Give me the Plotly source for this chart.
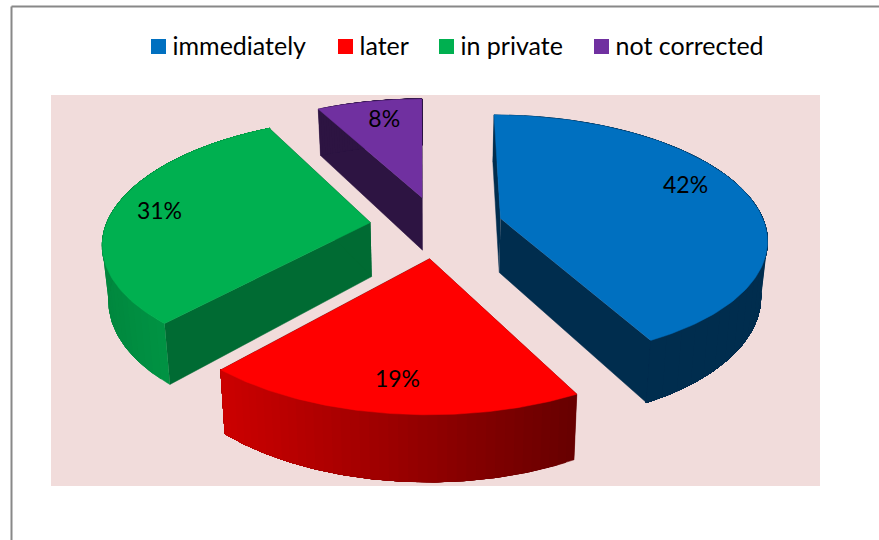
import numpy as np
import plotly.graph_objects as go

CATEGORIES = ["immediately", "later", "in private", "not corrected"]
SHARES = [42, 19, 31, 8]
TOP_COLORS = ["#0070C0", "#FF0000", "#00B050", "#7030A0"]

# layout / projection constants (pixels and unit-disc world coordinates)
W, H = 879, 540
CX, CY = 435, 221
SCALE, TILT, PERSP = 263, 120, 0.15
DEPTH = 54
CONVERGE = 0.98
START_ANGLE = -1
BOUNDARY_NUDGE = [1.5, 2.2, 3.2, 2, 0.5]  # view distortion of the slice boundaries, degrees
EXPLODE = {"immediately": (0.25, -0.02), "later": (-0.02, 0.3),
           "in private": (-0.245, 0.012), "not corrected": (-0.05, -0.2)}
LABEL_OFFSET = {"immediately": (185, -31), "later": (-32, 123),
                "in private": (-211, -9), "not corrected": (-38, -76)}
FACE_COLOR = {"immediately": "#002D4E", "later": "#660000",
              "in private": "#006B33", "not corrected": "#2D1442"}
SIDE_GRAD = {"immediately": ((0, 45, 78), (0, 45, 78)),
             "later": ((104, 0, 0), (205, 0, 0)),
             "in private": ((0, 165, 75), (0, 135, 62)),
             "not corrected": ((45, 20, 66), (45, 20, 66))}
DRAW_ORDER = ["not corrected", "in private", "immediately", "later"]
LEGEND_X = [158.5, 345.5, 446.5, 601.5]
LEGEND_Y = 46.5
LEGEND_TEXT_DX = 14
LEGEND_TEXT_DY = 2.5


def project(X, Y, z=0.0):
    X, Y = np.asarray(X, float), np.asarray(Y, float)
    d = 1 - PERSP * Y
    px = SCALE * X / d
    py = TILT * Y / d
    if z:
        return CX + px * CONVERGE, CY + py + z * DEPTH / d
    return CX + px, CY + py


def poly(fig, xs, ys, color):
    fig.add_trace(go.Scatter(x=list(xs), y=list(ys), mode="lines", fill="toself",
                             fillcolor=color, line=dict(color=color, width=0.5),
                             hoverinfo="skip", showlegend=False))


fig = go.Figure()

# slice angles derive from the shares
bounds = START_ANGLE + np.concatenate([[0], np.cumsum(SHARES)]) / sum(SHARES) * 360
bounds = bounds + np.array(BOUNDARY_NUDGE)
angles = {c: (bounds[i], bounds[i + 1]) for i, c in enumerate(CATEGORIES)}
color_of = dict(zip(CATEGORIES, TOP_COLORS))

for c in DRAW_ORDER:
    a0, a1 = angles[c]
    ex, ey = EXPLODE[c]
    th = np.radians(np.linspace(a0, a1, 121))
    X, Y = ex + np.sin(th), ey - np.cos(th)
    # straight cut faces
    for i in (0, -1):
        fx, fy = [ex, X[i]], [ey, Y[i]]
        tx, ty = project(fx, fy)
        bx, by = project(fx, fy, 1)
        poly(fig, [*tx, *bx[::-1]], [*ty, *by[::-1]], FACE_COLOR[c])
    # curved rim, shaded by horizontal position; each band runs on to the end of the arc
    tx, ty = project(X, Y)
    bx, by = project(X, Y, 1)
    c_r, c_l = SIDE_GRAD[c]
    xmin, xmax = tx.min(), tx.max()
    step = 3
    for i in range(0, len(tx) - 1, step):
        t = (tx[i] - xmin) / max(xmax - xmin, 1)
        col = tuple(int(round(l + (r - l) * t)) for r, l in zip(c_r, c_l))
        poly(fig, [*tx[i:], *bx[i:][::-1]], [*ty[i:], *by[i:][::-1]], f"rgb{col}")
    # top surface
    ax, ay = project([ex], [ey])
    poly(fig, [ax[0], *tx], [ay[0], *ty], color_of[c])

# value labels
lx, ly, lt = [], [], []
for c, v in zip(CATEGORIES, SHARES):
    ax, ay = project([EXPLODE[c][0]], [EXPLODE[c][1]])
    lx.append(ax[0] + LABEL_OFFSET[c][0])
    ly.append(ay[0] + LABEL_OFFSET[c][1])
    lt.append(f"{v}%")
fig.add_trace(go.Scatter(x=lx, y=ly, mode="text", text=lt, hoverinfo="skip", showlegend=False,
                         textfont=dict(family="Lato", size=23, color="#000000")))

# legend entries
for c, col, x in zip(CATEGORIES, TOP_COLORS, LEGEND_X):
    fig.add_trace(go.Scatter(x=[x], y=[LEGEND_Y], mode="markers", name=c,
                             showlegend=False, hoverinfo="skip",
                             marker=dict(symbol="square", size=15, color=col)))
    fig.add_trace(go.Scatter(x=[x + LEGEND_TEXT_DX], y=[LEGEND_Y + LEGEND_TEXT_DY], mode="text",
                             text=[c], textposition="middle right", name=c,
                             showlegend=False, hoverinfo="skip",
                             textfont=dict(family="Lato", size=25, color="#000000")))

fig.update_layout(
    width=W, height=H, margin=dict(l=0, r=0, t=0, b=0),
    paper_bgcolor="white", plot_bgcolor="white",
    xaxis=dict(range=[0, W], visible=False, fixedrange=True),
    yaxis=dict(range=[H, 0], visible=False, fixedrange=True),
    showlegend=False,
    shapes=[
        dict(type="rect", layer="below", x0=51, x1=820, y0=95, y1=486,
             fillcolor="#F1DCDB", line=dict(width=0)),
    ],
)
fig.add_shape(type="line", x0=11.5, x1=11.5, y0=6.5, y1=H, line=dict(color="#888888", width=2))
fig.add_shape(type="line", x0=11.5, x1=W, y0=6.5, y1=6.5, line=dict(color="#888888", width=2))
fig.write_html("out.html", config={"displayModeBar": False},
               post_script="document.body.style.margin='0';document.body.style.overflow='hidden';")
